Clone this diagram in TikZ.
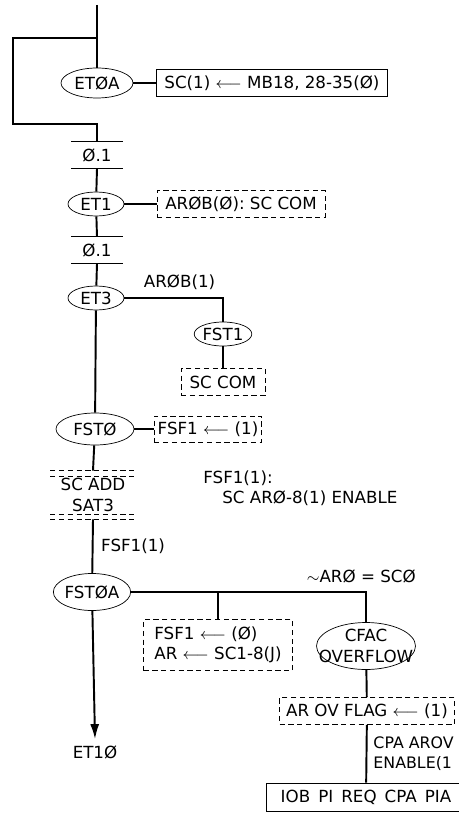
\documentclass[tikz,border=0pt]{standalone}
\usepackage{fontspec}
\setmainfont{DejaVu Sans}
\usetikzlibrary{arrows.meta,shapes.geometric}

\begin{document}
\begin{tikzpicture}[>=Latex,x=0.02cm,y=-0.02cm,font=\fontsize{9.5}{11.5}\selectfont]
\tikzset{state/.style={draw,ellipse,thin,inner sep=0pt},
  act/.style={draw,thin,densely dashed,inner sep=2pt,minimum height=0.54cm},
  bar/.style={inner sep=0pt,minimum width=1.02cm,minimum height=0.52cm},
  flow/.style={line width=1.1pt}}
\useasboundingbox (0,0) rectangle (458,814);
% states down the main line
\coordinate (top) at (97,5);
\coordinate (j1) at (97,38);
\coordinate (j2) at (97,124);
\coordinate (lp) at (13,124);
\node[state,minimum width=1.44cm,minimum height=0.6cm] (et0a) at (97,83) {ETØA};
\node[act,solid,minimum width=4.62cm] (act1) at (272,83) {SC(1) $\longleftarrow$ MB18, 28-35(Ø)};
\node[bar] (p1) at (97,155) {Ø.1};
\node[state,minimum width=1.12cm,minimum height=0.48cm] (et1) at (96,204) {ET1};
\node[act,minimum width=3.36cm] (act2) at (241,204) {ARØB(Ø): SC COM};
\node[bar] (p2) at (97,250) {Ø.1};
\node[state,minimum width=1.12cm,minimum height=0.48cm] (et3) at (96,298) {ET3};
\node[state,minimum width=1.12cm,minimum height=0.48cm] (fst1) at (223,334) {FST1};
\node[act,minimum width=1.68cm] (act3) at (223,382) {SC COM};
\node[state,minimum width=1.56cm,minimum height=0.64cm] (fst0) at (95,429) {FSTØ};
\node[act,minimum width=2.14cm,minimum height=0.52cm] (act4) at (208,429) {FSF1 $\longleftarrow$ (1)};
\node[inner sep=0pt,minimum width=1.7cm,minimum height=0.96cm,align=center] (scadd) at (93,495) {SC ADD\\SAT3};
\node[anchor=north west,align=left,inner sep=0pt] (note) at (203,470) {FSF1(1):\\\hspace*{0.38cm}SC ARØ-8(1) ENABLE};
\node[state,minimum width=1.54cm,minimum height=0.74cm] (fst0a) at (92,592) {FSTØA};
\node[act,minimum width=2.98cm,minimum height=1.02cm,align=left] (act5) at (218,645) {FSF1 $\longleftarrow$ (Ø)\\AR $\longleftarrow$ SC1-8(J)};
\node[state,minimum width=1.98cm,minimum height=0.94cm,inner xsep=-0.25cm,align=center] (cfac) at (366,646) {CFAC\\OVERFLOW};
\node[act,minimum width=3.5cm] (act6) at (367,711) {AR OV FLAG $\longleftarrow$ (1)};
\node[draw,thin,minimum width=4cm,minimum height=0.56cm] (iob) at (366,797) {IOB \,PI \,REQ \,CPA \,PIA};
\node (et10) at (95,752) {ET1Ø};
% the Ø.1 bars and the SC ADD bars
\foreach \a in {p1,p2}{
  \draw[thin] (\a.north west) -- (\a.north east);
  \draw[thin] (\a.south west) -- (\a.south east);}
\draw[thin,densely dashed] (scadd.north west) -- (scadd.north east);
\draw[thin,densely dashed] ([yshift=-3pt]scadd.north west) -- ([yshift=-3pt]scadd.north east);
\draw[thin,densely dashed] (scadd.south west) -- (scadd.south east);
\draw[thin,densely dashed] ([yshift=3pt]scadd.south west) -- ([yshift=3pt]scadd.south east);
% connectors
\draw[flow] (top) -- (et0a);
\draw[flow] (j1) -| (lp) -- (j2) -- (p1.north);
\draw[flow] (p1.south) -- (et1);
\draw[flow] (et1) -- (p2.north);
\draw[flow] (p2.south) -- (et3);
\draw[flow] (et3) -- (fst0);
\draw[flow] (et3.east) -| node[pos=0.28,above=1pt] (lb1) {ARØB(1)} (fst1.north);
\draw[flow] (fst1) -- (act3);
\draw[flow] (fst0) -- (scadd.north);
\draw[flow] (scadd.south) -- node[right=1pt] (lb2) {FSF1(1)} (fst0a);
\draw[flow] (fst0a.east) -| node[pos=0.49,above=1pt] (lb3) {$\sim$ARØ = SCØ} (cfac.north);
\draw[flow] (fst0a.east -| act5.north) -- (act5.north);
\draw[flow] (cfac) -- (act6);
\draw[flow] (act6) -- node[right=0.12cm,inner sep=0pt,align=left,font=\fontsize{9}{11}\selectfont] (lb4) {CPA AROV\\ENABLE(1} (iob);
\draw[flow,->,>={Latex[length=3mm,width=1.8mm]}] (fst0a) -- (et10.north);
\foreach \a/\b in {et0a/act1,et1/act2,fst0/act4}{\draw[flow] (\a) -- (\b);}
\end{tikzpicture}
\end{document}
